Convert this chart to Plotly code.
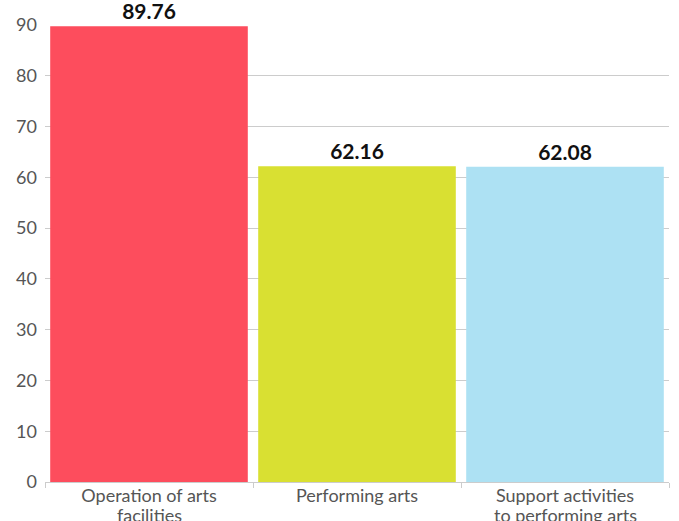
import plotly.graph_objects as go

categories = ["Operation of arts facilities", "Performing arts", "Support activities to performing arts"]
label_line1 = ["Operation of arts", "Performing arts", "Support activities"]
label_line2 = ["facilities", "", "to performing arts"]
values = [89.76, 62.16, 62.08]
colors = ["#FD4D5D", "#D9E032", "#ADE1F3"]
y_ticks = [0, 10, 20, 30, 40, 50, 60, 70, 80, 90]

W, H = 679, 521

fig = go.Figure(go.Bar(
    x=categories, y=values, marker=dict(color=colors, line=dict(width=0)),
    text=[f"{v:.2f}" for v in values], textposition="outside", cliponaxis=False,
    textfont=dict(family="Lato", size=21, color="#111111"),
    texttemplate="<b>%{text}</b>",
))
for c, l2 in zip(categories, label_line2):
    if l2:
        fig.add_annotation(x=c, xref="x", y=0, yref="y", text=l2, showarrow=False,
                           yanchor="top", yshift=-20,
                           font=dict(family="Lato", size=18, color="#555555"))
fig.update_layout(
    width=W, height=H, margin=dict(l=45, r=W - 669, t=25, b=H - 482),
    plot_bgcolor="white", paper_bgcolor="white", bargap=0.05, showlegend=False,
    font=dict(family="Lato"),
)
fig.update_yaxes(range=[0, 90], tickvals=y_ticks, showgrid=True, gridcolor="#cccccc", gridwidth=1,
                 ticks="", ticklabelstandoff=7, automargin=False,
                 tickfont=dict(family="Lato", size=18, color="#555555"), zeroline=False,
                 showline=False)
fig.update_xaxes(showline=True, linecolor="#cccccc", ticks="outside", tickson="boundaries",
                 ticklen=5, tickcolor="#cccccc", automargin=False, ticklabelstandoff=-3,
                 tickvals=categories, ticktext=label_line1,
                 tickfont=dict(family="Lato", size=18, color="#555555"))
fig.write_html("out.html", config={"displayModeBar": False},
               post_script="document.body.style.margin='0px';document.body.style.overflow='hidden';")
